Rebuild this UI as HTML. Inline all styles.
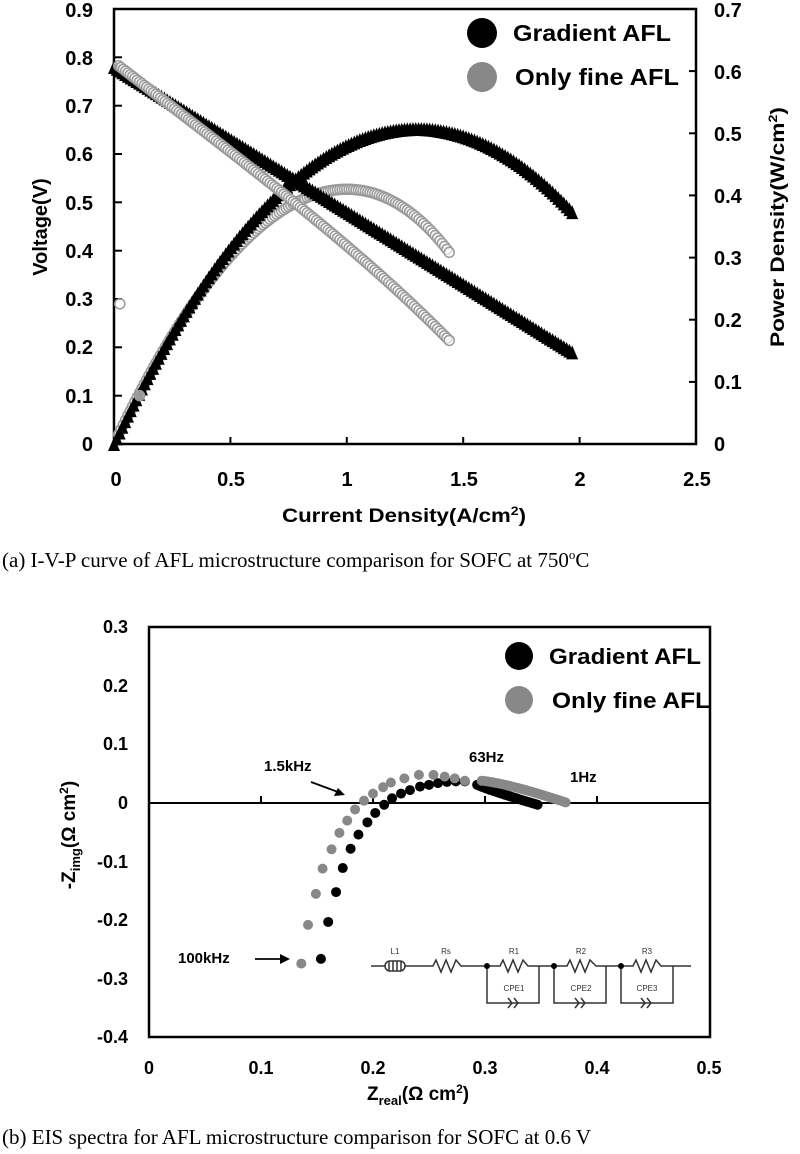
<!DOCTYPE html>
<html><head><meta charset="utf-8"><style>
html,body{margin:0;padding:0;background:#fff;}
svg{display:block;}
.t{font-family:"Liberation Sans",sans-serif;font-weight:bold;fill:#000;}
.c{font-family:"Liberation Serif",serif;fill:#000;font-size:21px;}
</style></head><body>
<svg id="s" width="800" height="1154" viewBox="0 0 800 1154" xmlns="http://www.w3.org/2000/svg">
<!-- Chart A frame -->
<rect x="114" y="9" width="582" height="435" fill="none" stroke="#000" stroke-width="2.5"/>
<g stroke="#000" stroke-width="2">
<line x1="230.4" y1="444" x2="230.4" y2="437"/><line x1="346.8" y1="444" x2="346.8" y2="437"/>
<line x1="463.2" y1="444" x2="463.2" y2="437"/><line x1="579.6" y1="444" x2="579.6" y2="437"/>
<line x1="696" y1="381.9" x2="689" y2="381.9"/><line x1="696" y1="319.7" x2="689" y2="319.7"/>
<line x1="696" y1="257.6" x2="689" y2="257.6"/><line x1="696" y1="195.4" x2="689" y2="195.4"/>
<line x1="696" y1="133.3" x2="689" y2="133.3"/><line x1="696" y1="71.1" x2="689" y2="71.1"/>
<line x1="114" y1="395.7" x2="122" y2="395.7"/><line x1="114" y1="347.3" x2="122" y2="347.3"/>
<line x1="114" y1="299" x2="122" y2="299"/><line x1="114" y1="250.7" x2="122" y2="250.7"/>
<line x1="114" y1="202.3" x2="122" y2="202.3"/><line x1="114" y1="154" x2="122" y2="154"/>
<line x1="114" y1="105.7" x2="122" y2="105.7"/><line x1="114" y1="57.3" x2="122" y2="57.3"/>
</g>
<g class="t" font-size="20" text-anchor="end">
<text x="93" y="17">0.9</text><text x="93" y="65">0.8</text><text x="93" y="113">0.7</text>
<text x="93" y="161">0.6</text><text x="93" y="210">0.5</text><text x="93" y="258">0.4</text>
<text x="93" y="306">0.3</text><text x="93" y="354">0.2</text><text x="93" y="403">0.1</text>
<text x="93" y="451">0</text>
</g>
<g class="t" font-size="20">
<text x="714" y="17">0.7</text><text x="714" y="79">0.6</text><text x="714" y="141">0.5</text>
<text x="714" y="203">0.4</text><text x="714" y="265">0.3</text><text x="714" y="327">0.2</text>
<text x="714" y="389">0.1</text><text x="714" y="451">0</text>
</g>
<g class="t" font-size="20" text-anchor="middle">
<text x="116" y="486">0</text><text x="231" y="486">0.5</text><text x="347" y="486">1</text>
<text x="464" y="486">1.5</text><text x="580" y="486">2</text><text x="697" y="486">2.5</text>
</g>
<text class="t" font-size="19" x="282" y="522" textLength="244" lengthAdjust="spacingAndGlyphs">Current Density(A/cm<tspan font-size="12" dy="-7">2</tspan><tspan dy="7">)</tspan></text>
<text class="t" font-size="20" transform="translate(47,227) rotate(-90)" text-anchor="middle">Voltage(V)</text>
<text class="t" font-size="19" transform="translate(784,347) rotate(-90)" textLength="240" lengthAdjust="spacingAndGlyphs">Power Density(W/cm<tspan font-size="12" dy="-7">2</tspan><tspan dy="7">)</tspan></text>
<g id="a"></g>
<circle cx="482" cy="33" r="15" fill="#000"/>
<circle cx="482" cy="77" r="15" fill="#888"/>
<text class="t" font-size="23" x="513" y="41" textLength="158" lengthAdjust="spacingAndGlyphs">Gradient AFL</text>
<text class="t" font-size="23" x="515" y="85" textLength="164" lengthAdjust="spacingAndGlyphs">Only fine AFL</text>
<text class="c" x="2" y="567">(a) I-V-P curve of AFL microstructure comparison for SOFC at 750<tspan font-size="13" dy="-8">o</tspan><tspan dy="8">C</tspan></text>

<!-- Chart B -->
<rect x="149" y="627" width="561" height="410" fill="none" stroke="#000" stroke-width="2.5"/>
<line x1="149" y1="803" x2="710" y2="803" stroke="#000" stroke-width="2"/>
<g stroke="#000" stroke-width="2">
<line x1="261" y1="803" x2="261" y2="796"/><line x1="373" y1="803" x2="373" y2="796"/>
<line x1="485" y1="803" x2="485" y2="796"/><line x1="597" y1="803" x2="597" y2="796"/>
</g>
<g class="t" font-size="18" text-anchor="end">
<text x="128" y="633">0.3</text><text x="128" y="692">0.2</text><text x="128" y="750">0.1</text>
<text x="128" y="809">0</text><text x="128" y="868">-0.1</text><text x="128" y="926">-0.2</text>
<text x="128" y="985">-0.3</text><text x="128" y="1043">-0.4</text>
</g>
<g class="t" font-size="18" text-anchor="middle">
<text x="149" y="1074">0</text><text x="261" y="1074">0.1</text><text x="373" y="1074">0.2</text>
<text x="485" y="1074">0.3</text><text x="597" y="1074">0.4</text><text x="709" y="1074">0.5</text>
</g>
<text class="t" font-size="19" x="367" y="1100">Z<tspan font-size="13" dy="5">real</tspan><tspan dy="-5">(Ω cm</tspan><tspan font-size="12" dy="-7">2</tspan><tspan dy="7">)</tspan></text>
<text class="t" font-size="19" transform="translate(75,835) rotate(-90)" text-anchor="middle">-Z<tspan font-size="13" dy="5">img</tspan><tspan dy="-5">(Ω cm</tspan><tspan font-size="12" dy="-7">2</tspan><tspan dy="7">)</tspan></text>
<g id="b"></g>
<circle cx="519" cy="656" r="14" fill="#000"/>
<circle cx="519" cy="700" r="14" fill="#888"/>
<text class="t" font-size="22" x="549" y="664" textLength="152" lengthAdjust="spacingAndGlyphs">Gradient AFL</text>
<text class="t" font-size="22" x="552" y="708" textLength="158" lengthAdjust="spacingAndGlyphs">Only fine AFL</text>
<g class="t" font-size="15">
<text x="264" y="771">1.5kHz</text><text x="469" y="762">63Hz</text><text x="570" y="782">1Hz</text><text x="178" y="963">100kHz</text>
</g>
<g stroke="#000" stroke-width="1.8">
<line x1="311" y1="782" x2="338" y2="792"/><line x1="255" y1="959" x2="282" y2="959"/>
</g>
<polygon points="345,795 334,796 338,788" fill="#000"/>
<polygon points="290,959 280,954 280,964" fill="#000"/>
<!-- circuit -->
<g fill="none" stroke="#333" stroke-width="1.5">
<path d="M371 966 H385 M405 966 H433 L436 960 L441 972 L446 960 L451 972 L456 960 L461 966 H500 L503 960 L508 972 L513 960 L518 972 L523 960 L528 966 H567 L570 960 L575 972 L580 960 L585 972 L590 960 L596 966 H633 L636 960 L641 972 L646 960 L651 972 L656 960 L661 966 H691"/>
<rect x="385" y="961" width="20" height="10" rx="5"/>
<path d="M389 961 v10 M393 961 v10 M397 961 v10 M401 961 v10"/>
<path d="M487 966 V1003 H539 V966 M554 966 V1003 H606 V966 M621 966 V1003 H673 V966"/>
<path d="M508 998 l4 5 l-4 5 M514 998 l4 5 l-4 5 M575 998 l4 5 l-4 5 M581 998 l4 5 l-4 5 M641 998 l4 5 l-4 5 M647 998 l4 5 l-4 5"/>
</g>
<g fill="#000"><circle cx="487" cy="966" r="3"/><circle cx="554" cy="966" r="3"/><circle cx="621" cy="966" r="3"/></g>
<g font-family="Liberation Sans,sans-serif" font-size="8" fill="#333" text-anchor="middle">
<text x="395" y="954">L1</text><text x="446" y="954">Rs</text><text x="514" y="954">R1</text><text x="581" y="954">R2</text><text x="647" y="954">R3</text>
<text x="514" y="991">CPE1</text><text x="581" y="991">CPE2</text><text x="647" y="991">CPE3</text>
</g>
<text class="c" x="2" y="1144">(b) EIS spectra for AFL microstructure comparison for SOFC at 0.6 V</text>
</svg>
<script>
var NS="http://www.w3.org/2000/svg";
function el(p,n,a){var e=document.createElementNS(NS,n);for(var k in a)e.setAttribute(k,a[k]);p.appendChild(e);}
var A=document.getElementById("a");
function X(j){return 114+j*232.8;}
function YL(v){return 444-v*483.3;}
function YR(p){return 444-p*621.4;}
function tri(x,y){el(A,"polygon",{points:(x-6)+","+(y+7)+" "+(x+6)+","+(y+7)+" "+x+","+(y-7),fill:"#000"});}
function circ(x,y){el(A,"circle",{cx:x,cy:y,r:5,fill:"#fff","fill-opacity":"0.6",stroke:"#999","stroke-width":1.5});}
function vg(j){return 0.79-0.37*j-0.01*Math.pow(j,4);}
for(var j=0.02;j<=1.45;j+=0.01){circ(X(j),YR(j*vg(j)));}
for(var j=0.0;j<=1.97;j+=0.012){var v=0.78-0.3*j;tri(X(j),YL(v));tri(X(j),YR(j*v));}
for(var j=0.02;j<=1.45;j+=0.01){circ(X(j),YL(vg(j)));}
circ(X(0.025),YL(0.29));circ(X(0.11),YL(0.1));
var B=document.getElementById("b");
function bx(x){return 149+x*1120;} function by(y){return 803-y*586;}
var black=[[0.1535,-0.266],[0.160,-0.203],[0.167,-0.152],[0.173,-0.111],[0.180,-0.078],[0.187,-0.054],[0.195,-0.033],[0.202,-0.017],[0.21,-0.003],[0.217,0.008],[0.225,0.016],[0.233,0.022],[0.242,0.028],[0.25,0.031],[0.258,0.034],[0.266,0.036],[0.274,0.037],[0.282,0.037]];
for(var i=0;i<=24;i++){var t=i/24;black.push([0.293+t*0.054,0.031-0.034*Math.pow(t,0.9)]);}
var gray=[[0.136,-0.274],[0.142,-0.208],[0.149,-0.155],[0.155,-0.112],[0.163,-0.079],[0.170,-0.051],[0.177,-0.030],[0.184,-0.011],[0.192,0.004],[0.2,0.016],[0.209,0.027],[0.216,0.035],[0.228,0.042],[0.241,0.048],[0.254,0.048],[0.264,0.045],[0.273,0.042],[0.282,0.038]];
for(var i=0;i<=30;i++){var t=i/30;gray.push([0.297+t*0.075,0.038-0.037*Math.pow(t,1.3)]);}
black.forEach(function(p){el(B,"circle",{cx:bx(p[0]),cy:by(p[1]),r:5,fill:"#000"});});
gray.forEach(function(p){el(B,"circle",{cx:bx(p[0]),cy:by(p[1]),r:5,fill:"#888"});});
</script>
</body></html>
